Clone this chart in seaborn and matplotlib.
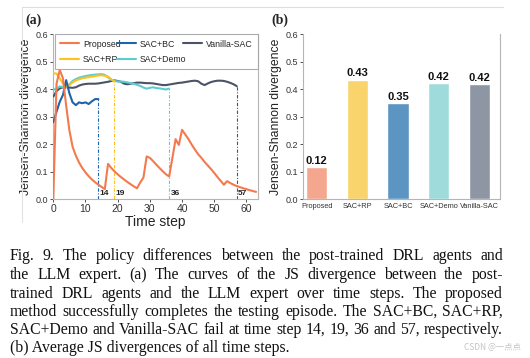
import numpy as np
import pandas as pd
import matplotlib
matplotlib.use("Agg")
import matplotlib.pyplot as plt
import seaborn as sns
from matplotlib.lines import Line2D

# ---------------- data ----------------
proposed = [0.0, 0.42, 0.47, 0.44, 0.34, 0.25, 0.19, 0.158, 0.133, 0.113,
            0.097, 0.083, 0.071, 0.061, 0.052, 0.044, 0.036, 0.128, 0.113, 0.101,
            0.090, 0.080, 0.071, 0.062, 0.054, 0.046, 0.039, 0.060, 0.078, 0.155,
            0.150, 0.138, 0.125, 0.113, 0.101, 0.090, 0.082, 0.150, 0.218, 0.197,
            0.252, 0.235, 0.218, 0.198, 0.180, 0.163, 0.150, 0.135, 0.122, 0.109,
            0.095, 0.080, 0.066, 0.052, 0.065, 0.058, 0.052, 0.047, 0.043, 0.039,
            0.036, 0.032, 0.029, 0.026]
sac_bc = [0.28, 0.318, 0.354, 0.379, 0.433, 0.385, 0.352, 0.342, 0.352, 0.349,
          0.352, 0.346, 0.356, 0.364, 0.364]
sac_rp = [0.458, 0.457, 0.44, 0.421, 0.409, 0.415, 0.425, 0.432, 0.436, 0.44,
          0.442, 0.444, 0.446, 0.448, 0.45, 0.451, 0.449, 0.446, 0.436, 0.428]
sac_demo = [0.397, 0.403, 0.41, 0.408, 0.406, 0.418, 0.43, 0.437, 0.442, 0.445,
            0.448, 0.45, 0.452, 0.453, 0.454, 0.455, 0.452, 0.443, 0.435, 0.43,
            0.428, 0.428, 0.427, 0.425, 0.422, 0.42, 0.416, 0.412, 0.406, 0.402,
            0.405, 0.407, 0.404, 0.403, 0.401, 0.399, 0.402]
vanilla = [0.373, 0.393, 0.403, 0.407, 0.408, 0.406, 0.405, 0.407, 0.413, 0.417,
           0.419, 0.42, 0.42, 0.42, 0.421, 0.423, 0.425, 0.427, 0.43, 0.432,
           0.43, 0.427, 0.42, 0.418, 0.42, 0.422, 0.424, 0.424, 0.423, 0.422,
           0.422, 0.421, 0.419, 0.417, 0.415, 0.415, 0.417, 0.419, 0.421, 0.423,
           0.424, 0.426, 0.428, 0.43, 0.431, 0.429, 0.42, 0.415, 0.421, 0.426,
           0.429, 0.431, 0.431, 0.43, 0.427, 0.423, 0.418, 0.411]

series_names = ["Proposed", "SAC+RP", "SAC+BC", "SAC+Demo", "Vanilla-SAC"]
series_values = [proposed, sac_rp, sac_bc, sac_demo, vanilla]
fail_names = ["SAC+BC", "SAC+RP", "SAC+Demo", "Vanilla-SAC"]
fail_steps = [14, 19, 36, 57]

bar_categories = ["Proposed", "SAC+RP", "SAC+BC", "SAC+Demo", "Vanilla-SAC"]
bar_values = [0.116, 0.434, 0.349, 0.421, 0.418]

caption_lines = [
    "Fig. 9.  The policy differences between the post-trained DRL agents and",
    "the LLM expert. (a) The curves of the JS divergence between the post-",
    "trained DRL agents and the LLM expert over time steps. The proposed",
    "method successfully completes the testing episode. The SAC+BC, SAC+RP,",
    "SAC+Demo and Vanilla-SAC fail at time step 14, 19, 36 and 57, respectively.",
    "(b) Average JS divergences of all time steps.",
]

# ---------------- style ----------------
line_colors = {"Proposed": "#F47A4E", "SAC+RP": "#FFC21A", "SAC+BC": "#1F63AA",
               "SAC+Demo": "#5CCCD2", "Vanilla-SAC": "#4A5367"}
bar_colors = ["#F4A68E", "#F9D46C", "#5C95C1", "#A0DBDC", "#8F96A3"]

sns.set_theme(style="white")
plt.rcParams["font.family"] = ["Liberation Sans", "DejaVu Sans"]
plt.rcParams["axes.edgecolor"] = "#b5b5b5"
plt.rcParams["axes.linewidth"] = 0.8

fig = plt.figure(figsize=(5.30, 3.58), dpi=100)
W, H = 530.0, 358.0

def ax_rect(l, r, t, b):
    return [l / W, 1 - b / H, (r - l) / W, (b - t) / H]

ax1 = fig.add_axes(ax_rect(53.3, 257.7, 34.3, 199.0))
ax2 = fig.add_axes(ax_rect(303.3, 500.0, 34.3, 199.0))

# ---------------- panel (a) ----------------
rows = []
for name, vals in zip(series_names, series_values):
    for i, v in enumerate(vals):
        rows.append({"step": i, "js": v, "method": name})
df = pd.DataFrame(rows)

draw_order = ["Vanilla-SAC", "SAC+Demo", "SAC+RP", "SAC+BC", "Proposed"]
for name in draw_order:
    sub = df[df["method"] == name]
    sns.lineplot(data=sub, x="step", y="js", color=line_colors[name], lw=1.5,
                 ax=ax1, legend=False, zorder=3 if name != "Proposed" else 4)

for name, st in zip(fail_names, fail_steps):
    vals = series_values[series_names.index(name)]
    ax1.vlines(st, 0, vals[-1], colors=line_colors[name],
               linestyles=(0, (3, 1.5, 1, 1.5)), lw=0.8, zorder=2)
    ax1.text(st + 0.4, 0.008, str(st), fontsize=6, fontweight="bold",
             color="#222222", ha="left", va="bottom")

ax1.set_xlim(0, 63.5)
ax1.set_ylim(0, 0.6)
ax1.set_xticks([0, 10, 20, 30, 40, 50, 60])
ax1.set_yticks([0.0, 0.1, 0.2, 0.3, 0.4, 0.5, 0.6])
ax1.set_yticklabels([f"{v:.1f}" for v in ax1.get_yticks()])
ax1.set_xlabel("Time step", fontsize=10, labelpad=1, color="#222222")
ax1.set_ylabel("Jensen-Shannon divergence", fontsize=8.8, labelpad=3, color="#222222")
ax1.spines["top"].set_visible(False)

handles = [Line2D([], [], color=line_colors[n], lw=1.5) for n in series_names]
leg = ax1.legend(handles, series_names, ncol=3, loc="upper left",
                 bbox_to_anchor=(0.008, 1.0, 0.992, 0.0), mode="expand",
                 borderaxespad=0, fontsize=6.3, frameon=True, fancybox=False,
                 handlelength=2.2, handletextpad=0.4, columnspacing=0.5,
                 labelspacing=0.75, borderpad=0.6)
leg.get_frame().set_edgecolor("#9a9a9a")
leg.get_frame().set_linewidth(0.8)

# ---------------- panel (b) ----------------
dfb = pd.DataFrame({"method": bar_categories, "js": bar_values})
sns.barplot(data=dfb, x="method", y="js", hue="method", palette=bar_colors,
            order=bar_categories, hue_order=bar_categories, width=0.53,
            legend=False, ax=ax2, saturation=1)
for cont in ax2.containers:
    ax2.bar_label(cont, fmt="%.2f", fontsize=8, fontweight="bold", padding=1,
                  color="#111111")
ax2.set_xlim(-0.33, 4.51)
ax2.set_ylim(0, 0.6)
ax2.set_yticks([0.0, 0.1, 0.2, 0.3, 0.4, 0.5, 0.6])
ax2.set_yticklabels([f"{v:.1f}" for v in ax2.get_yticks()])
ax2.set_xlabel("")
ax2.set_ylabel("Jensen-Shannon divergence", fontsize=8.8, labelpad=3, color="#222222")
ax2.spines["top"].set_visible(False)

for ax in (ax1, ax2):
    ax.tick_params(axis="both", labelsize=6.5, colors="#333333", length=2,
                   width=0.6, pad=1.5, direction="out", bottom=True, left=True)
ax2.tick_params(axis="x", labelsize=5.35, length=0, pad=3)
ax1.tick_params(axis="x", labelsize=7.5)
ax1.tick_params(axis="y", labelsize=6.5)

# panel tags
fig.text(25 / W, 1 - 20 / H, "(a)", fontsize=10, fontweight="bold",
         family="Liberation Serif", ha="left", va="center")
fig.text(271 / W, 1 - 20 / H, "(b)", fontsize=10, fontweight="bold",
         family="Liberation Serif", ha="left", va="center")

# light frame of the chart image
fig.add_artist(Line2D([22 / W, 503 / W], [1 - 7 / H, 1 - 7 / H],
                      color="#dddddd", lw=0.8, transform=fig.transFigure))
fig.add_artist(Line2D([22 / W, 22 / W], [1 - 7 / H, 1 - 222 / H],
                      color="#e2e2e2", lw=0.8, transform=fig.transFigure))

# ---------------- caption (justified) ----------------
renderer = fig.canvas.get_renderer()
cap_left, cap_right = 10.0, 503.0
cap_width = cap_right - cap_left
fs = 12.3

def text_width(s, size):
    t = fig.text(0, 0, s, fontsize=size, family="Liberation Serif")
    w = t.get_window_extent(renderer=renderer).width
    t.remove()
    return w

widest = max(text_width(l, fs) for l in caption_lines[:-1])
if widest > cap_width:
    fs = fs * cap_width / widest * 0.995

baselines = [260.5, 279.0, 297.5, 316.0, 334.0, 351.5]
for idx, (line, base) in enumerate(zip(caption_lines, baselines)):
    y = 1 - base / H
    if idx == len(caption_lines) - 1:
        fig.text(cap_left / W, y, line, fontsize=fs, family="Liberation Serif",
                 ha="left", va="baseline", color="#111111")
        continue
    words = [w for w in line.split(" ") if w != ""]
    widths = [text_width(w, fs) for w in words]
    gap = (cap_width - sum(widths)) / (len(words) - 1)
    x = cap_left
    for w, wd in zip(words, widths):
        fig.text(x / W, y, w, fontsize=fs, family="Liberation Serif",
                 ha="left", va="baseline", color="#111111")
        x += wd + gap

fig.text(521 / W, 1 - 347 / H, "CSDN @一点点", fontsize=6,
         family=["Noto Sans CJK SC", "DejaVu Sans"], color="#c4c4c4",
         ha="right", va="center")

fig.savefig("out.png", dpi=100)
